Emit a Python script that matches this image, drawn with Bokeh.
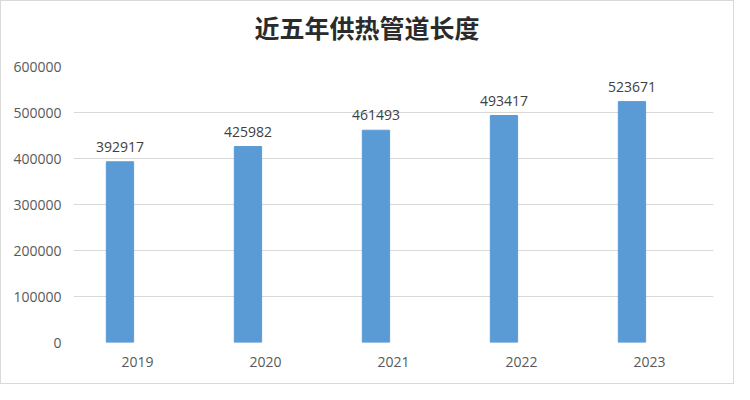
from bokeh.plotting import figure
from bokeh.models import ColumnDataSource, FactorRange, Range1d, FixedTicker, Div
from bokeh.layouts import column
from bokeh.transform import dodge
from bokeh.core.properties import value
from bokeh.embed import file_html
from bokeh.resources import INLINE

years = ["2019", "2020", "2021", "2022", "2023"]
lengths = [392917, 425982, 461493, 493417, 523671]
labels = [str(v) for v in lengths]
y_ticks = [0, 100000, 200000, 300000, 400000, 500000, 600000]
title_text = "近五年供热管道长度"

src = ColumnDataSource(data=dict(years=years, lengths=lengths, labels=labels))

title_div = Div(
    text=title_text, width=732, height=52, margin=0,
    styles={
        "font-family": "'Noto Sans CJK SC'", "font-size": "25px",
        "font-weight": "bold", "color": "#2b2b2b", "text-align": "center",
        "line-height": "52px", "background-color": "white",
    },
)

p = figure(
    width=732, height=330,
    x_range=FactorRange(*years),
    y_range=Range1d(0, 600000),
    output_backend="svg", toolbar_location=None,
    min_border_left=72, min_border_right=20,
    min_border_top=13, min_border_bottom=41,
)
p.outline_line_color = None
p.background_fill_color = "white"
p.border_fill_color = "white"

off = -0.137
p.vbar(x=dodge("years", off, range=p.x_range), top="lengths", width=0.213,
       source=src, fill_color="#5B9BD5", line_color="#5B9BD5")

p.text(x=dodge("years", off, range=p.x_range), y="lengths", text="labels",
       source=src, text_align="center", text_baseline="alphabetic",
       y_offset=-15, text_font=value("Open Sans"), text_font_size="14px",
       text_color="#404040")

p.xgrid.grid_line_color = None
p.ygrid.grid_line_color = "#d9d9d9"
p.ygrid.grid_line_width = 1
p.yaxis.ticker = FixedTicker(ticks=y_ticks)
p.yaxis.major_label_overrides = {t: str(t) for t in y_ticks}

for ax in (p.xaxis[0], p.yaxis[0]):
    ax.axis_line_color = None
    ax.major_tick_line_color = None
    ax.minor_tick_line_color = None
    ax.major_tick_out = 0
    ax.major_tick_in = 0
    ax.major_label_text_font = "Open Sans"
    ax.major_label_text_font_size = "14px"
    ax.major_label_text_color = "#595959"

p.yaxis.major_label_standoff = 12
p.xaxis.major_label_standoff = 14

layout = column(title_div, p, spacing=0,
                styles={"border": "1px solid #d9d9d9", "background-color": "white"})

open("out.html", "w").write(file_html(layout, INLINE))
